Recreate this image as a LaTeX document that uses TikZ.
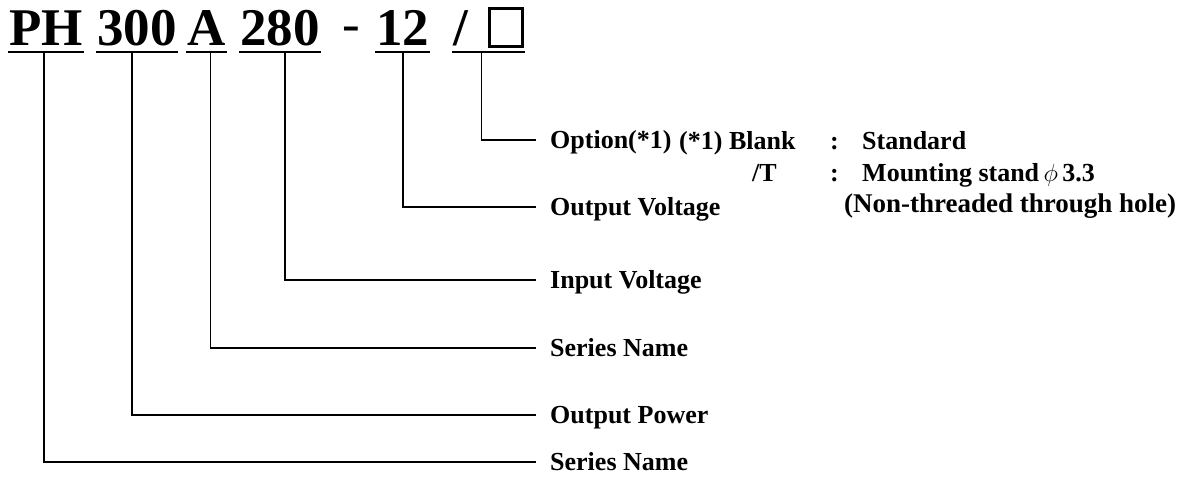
\documentclass[tikz,border=0pt]{standalone}
\usepackage{fontspec}
\setmainfont{Liberation Serif}
\usetikzlibrary{positioning, calc}
\tikzset{
  code/.style={font=\fontsize{53}{53}\selectfont\bfseries, inner sep=0pt, anchor=base west},
  lbl/.style={font=\fontsize{26}{26}\selectfont\bfseries, inner xsep=14pt, inner ysep=0pt,
    text height=17pt, text depth=0pt, anchor=west},
  note/.style={font=\fontsize{26}{26}\selectfont\bfseries, inner sep=0pt, anchor=base west},
  uline/.style={line width=1.8pt},
  lead/.style={line width=1.6pt},
}
\begin{document}
\begin{tikzpicture}[x=1pt, y=-1pt]
\useasboundingbox (0,0) rectangle (1187,496);
% model code
\node[code] (ph) at (9,45) {PH};
\node[code] (pw) at (97,45) {300};
\node[code] (ser) at (187,45) {A};
\node[code] (vin) at (240,45) {280};
\node[code, font=\fontsize{53}{53}\selectfont] (dash) at (342,45) {\raisebox{4pt}{-}};
\node[code] (vout) at (376,45) {12};
\node[code] (opt) at (453,45) {/\hspace{20pt}{\fboxsep=0pt\fboxrule=2.6pt\framebox[36pt]{\rule{0pt}{35pt}}}};

% meanings
\node[lbl] (lOpt) at (536,140) {Option(*1)};
\node[lbl] (lOut) at (536,207) {Output Voltage};
\node[lbl] (lIn) at (536,280) {Input Voltage};
\node[lbl] (lSerB) at (536,348) {Series Name};
\node[lbl] (lPow) at (536,415) {Output Power};
\node[lbl] (lSerA) at (536,462) {Series Name};

% option notes
\node[note] (nBlank) at (679,149) {(*1) Blank};
\node[note] (nT) at (752,181) {/T};
\node[note] (c1) at (830,149) {:};
\node[note] (c2) at (830,181) {:};
\node[note] (nStd) at (862,149) {Standard};
\node[note] (nStand) at (862,181) {Mounting stand\,$\phi$\,3.3};
\node[note, font=\fontsize{27}{27}\selectfont\bfseries] (nHole) at (844,212) {(Non-threaded through hole)};

\foreach \t/\l/\dx in {ph/lSerA/-2, pw/lPow/-5, ser/lSerB/4, vin/lIn/5, vout/lOut/0, opt/lOpt/-7} {
  \draw[uline] ($(\t.base west)+(-1,7)$) -- ($(\t.base east)+(1,7)$);
  \draw[lead] ($(\t.base)+(\dx,7)$) |- (\l.west);
}
\end{tikzpicture}
\end{document}
